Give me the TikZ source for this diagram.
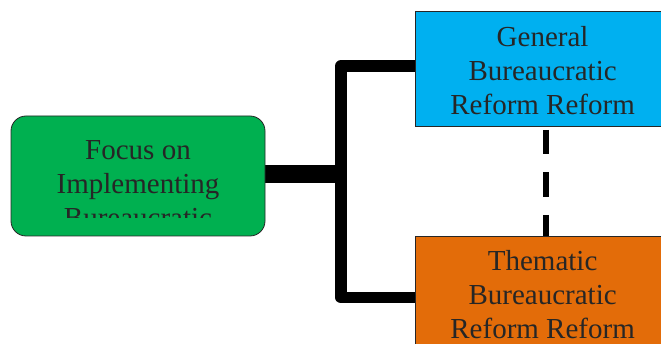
\documentclass[tikz,border=0pt]{standalone}
\usepackage{fontspec}
\setmainfont{Liberation Serif}
\usetikzlibrary{backgrounds}
\definecolor{gfill}{HTML}{00B050}
\definecolor{bfill}{HTML}{00B0F0}
\definecolor{ofill}{HTML}{E36C09}
\definecolor{txt}{HTML}{262626}
\begin{document}
\begin{tikzpicture}[x=1pt,y=-1pt,
  boxtext/.style={text=txt, align=center, font=\fontsize{29}{34}\selectfont},
  box/.style={draw=black!85, line width=0.8pt, inner sep=0pt},
  link/.style={line width=11.5pt, line join=round},
  stub/.style={line width=17.7pt},
  dashlink/.style={line width=6pt, dash pattern=on 24.5pt off 18pt, dash phase=39pt}
]
\useasboundingbox (0,0) rectangle (661,344);
\node[box, fill=gfill, rounded corners=15pt, minimum width=254pt, minimum height=120pt] (focus) at (138,176) {};
\begin{scope}
  \clip (11,116) rectangle (265,218);
  \node[boxtext] (focustext) at (138,184) {Focus on\\Implementing\\Bureaucratic};
\end{scope}
\node[box, fill=bfill, minimum width=254pt, minimum height=115pt] (general) at (542.6,68.5) {};
\node[boxtext] (generaltext) at (542.6,71) {General\\Bureaucratic\\Reform Reform};
\node[box, fill=ofill, minimum width=254pt, minimum height=115pt] (thematic) at (542.6,293.5) {};
\node[boxtext] (thematictext) at (542.6,295) {Thematic\\Bureaucratic\\Reform Reform};
\begin{scope}[on background layer]
  \coordinate (j) at (340.8,174);
  \draw[stub] (focus.east |- j) -- (j);
  \draw[link] ([yshift=2.5pt]general.west) -| (j) |- ([yshift=-4pt]thematic.west);
  \draw[dashlink] ([xshift=3.2pt]general.south) -- ([xshift=3.2pt]thematic.north);
\end{scope}
\end{tikzpicture}
\end{document}
